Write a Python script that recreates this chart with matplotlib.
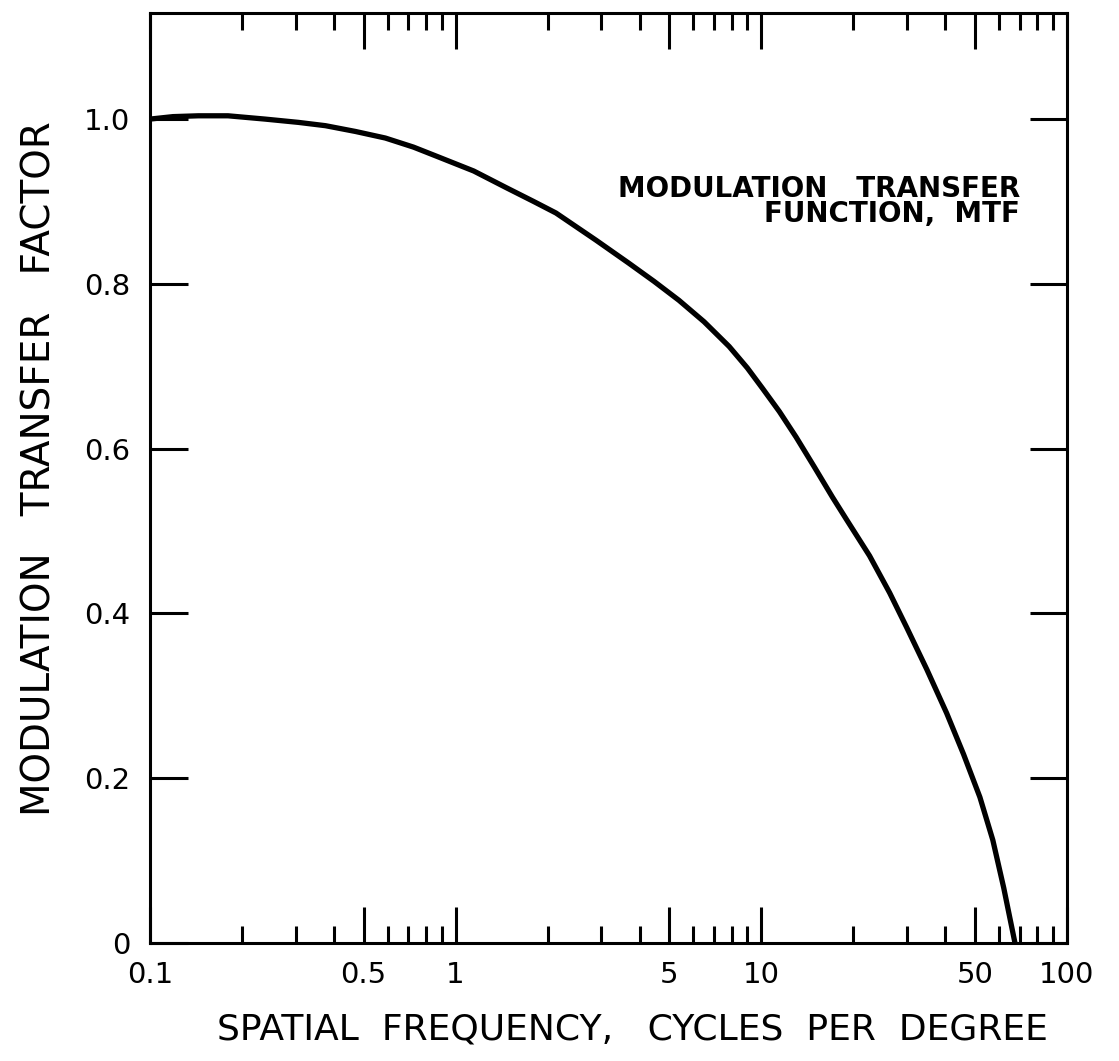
#!/usr/bin/env python3
"""MTF curve vs spatial frequency, log x axis."""
import matplotlib
matplotlib.use("Agg")
import matplotlib.pyplot as plt
from matplotlib.ticker import FixedLocator, NullFormatter

# values
freq = [0.1, 0.119, 0.144, 0.180, 0.238, 0.306, 0.375, 0.470, 0.589, 0.728,
        0.879, 1.146, 1.46, 1.80, 2.13, 2.88, 3.69, 4.46, 5.38, 6.50,
        7.85, 9.0, 10.1, 11.46, 13.0, 14.9, 17.1, 19.0, 22.6, 26.3,
        29.9, 34.8, 40.4, 45.9, 51.9, 57.2, 62.1, 67.6]
mtf = [1.000, 1.003, 1.004, 1.004, 1.000, 0.996, 0.992, 0.985, 0.977, 0.966,
       0.954, 0.937, 0.917, 0.900, 0.886, 0.853, 0.825, 0.803, 0.780, 0.754,
       0.724, 0.698, 0.673, 0.645, 0.614, 0.578, 0.541, 0.514, 0.470, 0.425,
       0.383, 0.332, 0.279, 0.229, 0.177, 0.125, 0.067, 0.0]

x_major = [0.1, 0.5, 1, 5, 10, 50, 100]
x_major_labels = ["0.1", "0.5", "1", "5", "10", "50", "100"]
x_minor = [0.2, 0.3, 0.4, 0.6, 0.7, 0.8, 0.9,
           2, 3, 4, 6, 7, 8, 9,
           20, 30, 40, 60, 70, 80, 90]
y_ticks = [0, 0.2, 0.4, 0.6, 0.8, 1.0]
y_labels = ["0", "0.2", "0.4", "0.6", "0.8", "1.0"]

fig = plt.figure(figsize=(11.19, 10.61), dpi=100)
ax = fig.add_axes([0.134, 0.1112, 0.8195, 0.8765])

ax.plot(freq, mtf, color="black", lw=3.8, solid_joinstyle="round")

ax.set_xscale("log")
ax.set_xlim(0.1, 100)
ax.set_ylim(0, 1.1287)

ax.xaxis.set_major_locator(FixedLocator(x_major))
ax.xaxis.set_minor_locator(FixedLocator(x_minor))
ax.set_xticklabels(x_major_labels)
ax.xaxis.set_minor_formatter(NullFormatter())
ax.set_yticks(y_ticks)
ax.set_yticklabels(y_labels)

for s in ax.spines.values():
    s.set_linewidth(2.2)

ax.tick_params(axis="x", which="major", direction="in", length=26, width=2.2,
               top=True, bottom=True, labelsize=21, pad=13)
ax.tick_params(axis="x", which="minor", direction="in", length=12, width=2.2,
               top=True, bottom=True)
ax.tick_params(axis="y", which="major", direction="in", length=27, width=2.2,
               left=True, right=True, labelsize=21, pad=14)

ax.set_xlabel("SPATIAL  FREQUENCY,   CYCLES  PER  DEGREE", fontsize=26)
ax.xaxis.set_label_coords(0.526, -0.075)
ax.set_ylabel("MODULATION   TRANSFER   FACTOR", fontsize=28)
ax.yaxis.set_label_coords(-0.1, 0.51)

ax.text(0.949, 0.826, "MODULATION   TRANSFER\nFUNCTION,  MTF", transform=ax.transAxes,
        ha="right", va="top", multialignment="right", fontsize=20,
        fontweight="bold", linespacing=0.85)

fig.savefig("out.png", dpi=100)
